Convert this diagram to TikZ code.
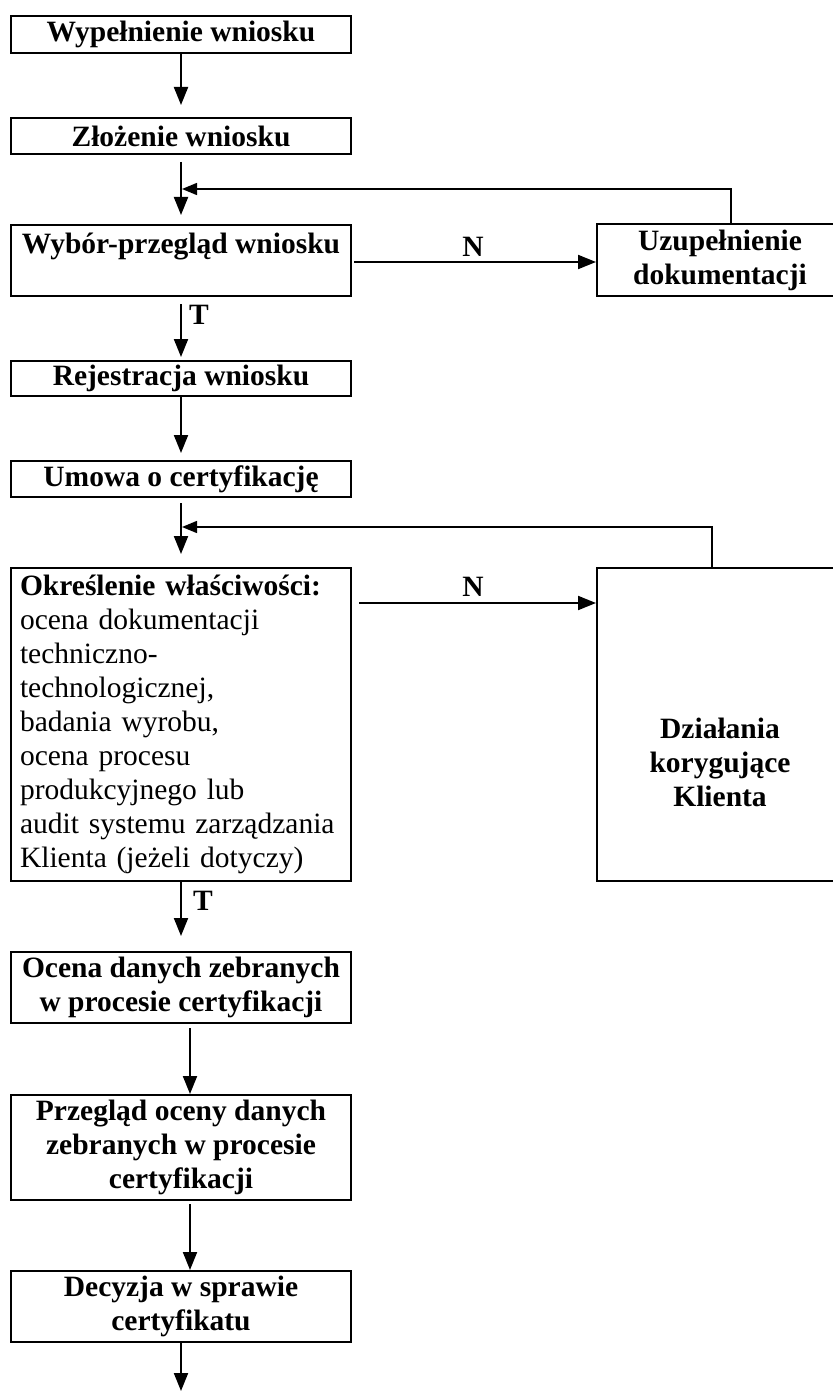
\documentclass[tikz,border=0pt]{standalone}
\usepackage{fontspec}
\setmainfont{Liberation Serif}
\usetikzlibrary{arrows.meta}
\begin{document}
\begin{tikzpicture}[x=1pt,y=-1pt,
  txt/.style={font=\fontsize{29.5}{34}\selectfont\bfseries},
  box/.style={draw,line width=2pt,minimum width=340pt,inner sep=0pt,align=center,txt},
  sidebox/.style={draw,line width=2pt,minimum width=246pt,inner sep=0pt,align=center,txt},
  arr/.style={line width=2pt,-{Triangle[length=18pt,width=14pt]}},
  fb/.style={line width=1.4pt,-{Triangle[length=15pt,width=12pt]}},
  lbl/.style={txt,inner sep=0pt}]
\useasboundingbox (0,0) rectangle (832,1391);

\node[box,minimum height=37pt] (b1) at (181,34.5) {Wypełnienie wniosku};
\node[box,minimum height=36pt] (b2) at (181,136) {Złożenie wniosku};
\node[box,minimum height=71pt] (b3) at (181,260.5) {Wybór-przegląd wniosku\\\mbox{}};
\node[sidebox,minimum height=72pt] (u) at (720,260) {Uzupełnienie\\dokumentacji};
\node[box,minimum height=35pt] (b4) at (181,378.5) {Rejestracja wniosku};
\node[box,minimum height=36pt] (b5) at (181,479) {Umowa o certyfikację};
\node[draw,line width=2pt,minimum width=340pt,minimum height=313pt,inner xsep=9pt,inner ysep=0pt,
      text width=322pt,align=left,font=\fontsize{29.5}{34}\selectfont] (b6) at (181,724.5)
  {\textbf{Określenie właściwości:}\\ocena dokumentacji\\techniczno-\\technologicznej,\\badania wyrobu,\\ocena procesu\\produkcyjnego lub\\audit systemu zarządzania\\Klienta (jeżeli dotyczy)};
\node[draw,line width=2pt,minimum width=246pt,minimum height=313pt,inner sep=0pt] (d) at (720,724.5) {};
\node[txt,align=center,inner sep=0pt] (dt) at (720,762) {Działania\\korygujące\\Klienta};
\node[box,minimum height=71pt] (b7) at (181,987.5) {Ocena danych zebranych\\w procesie certyfikacji};
\node[box,minimum height=105pt] (b8) at (181,1147.5) {Przegląd oceny danych\\zebranych w procesie\\certyfikacji};
\node[box,minimum height=71pt] (b9) at (181,1306.5) {Decyzja w sprawie\\certyfikatu};

\node[lbl] (n1) at (473,247) {N};
\node[lbl] (n2) at (473,587) {N};
\node[lbl] (t1) at (199,315) {T};
\node[lbl] (t2) at (203,901) {T};

\coordinate (j1) at (182,189);
\coordinate (j2) at (182,527);
\coordinate (j3) at (0,603);
\coordinate (j4) at (0,262);
\coordinate (end) at (181,1391);

\draw[arr,shorten >=12pt] (b1.south) -- (b2.north);
\draw[arr,shorten <=7pt,shorten >=9pt] (b2.south) -- (b3.north);
\draw[arr,shorten <=7pt,shorten >=3pt] (b3.south) -- (b4.north);
\draw[arr,shorten >=7pt] (b4.south) -- (b5.north);
\draw[arr,shorten <=5pt,shorten >=13pt] (b5.south) -- (b6.north);
\draw[arr,shorten >=15pt] (b6.south) -- (b7.north);
\draw[arr,shorten <=4pt] ([xshift=9pt]b7.south) -- ([xshift=9pt]b8.north);
\draw[arr,shorten <=3pt] ([xshift=9pt]b8.south) -- ([xshift=9pt]b9.north);
\draw[arr] (b9.south) -- (end);

\draw[arr,shorten <=2pt] (b3.east |- j4) -- (u.west |- j4);
\draw[arr,shorten <=7pt] (b6.east |- j3) -- (d.west |- j3);

\draw[fb] ([xshift=11pt]u.north) |- (j1);
\draw[fb] ([xshift=-8pt]d.north) |- (j2);
\end{tikzpicture}
\end{document}
